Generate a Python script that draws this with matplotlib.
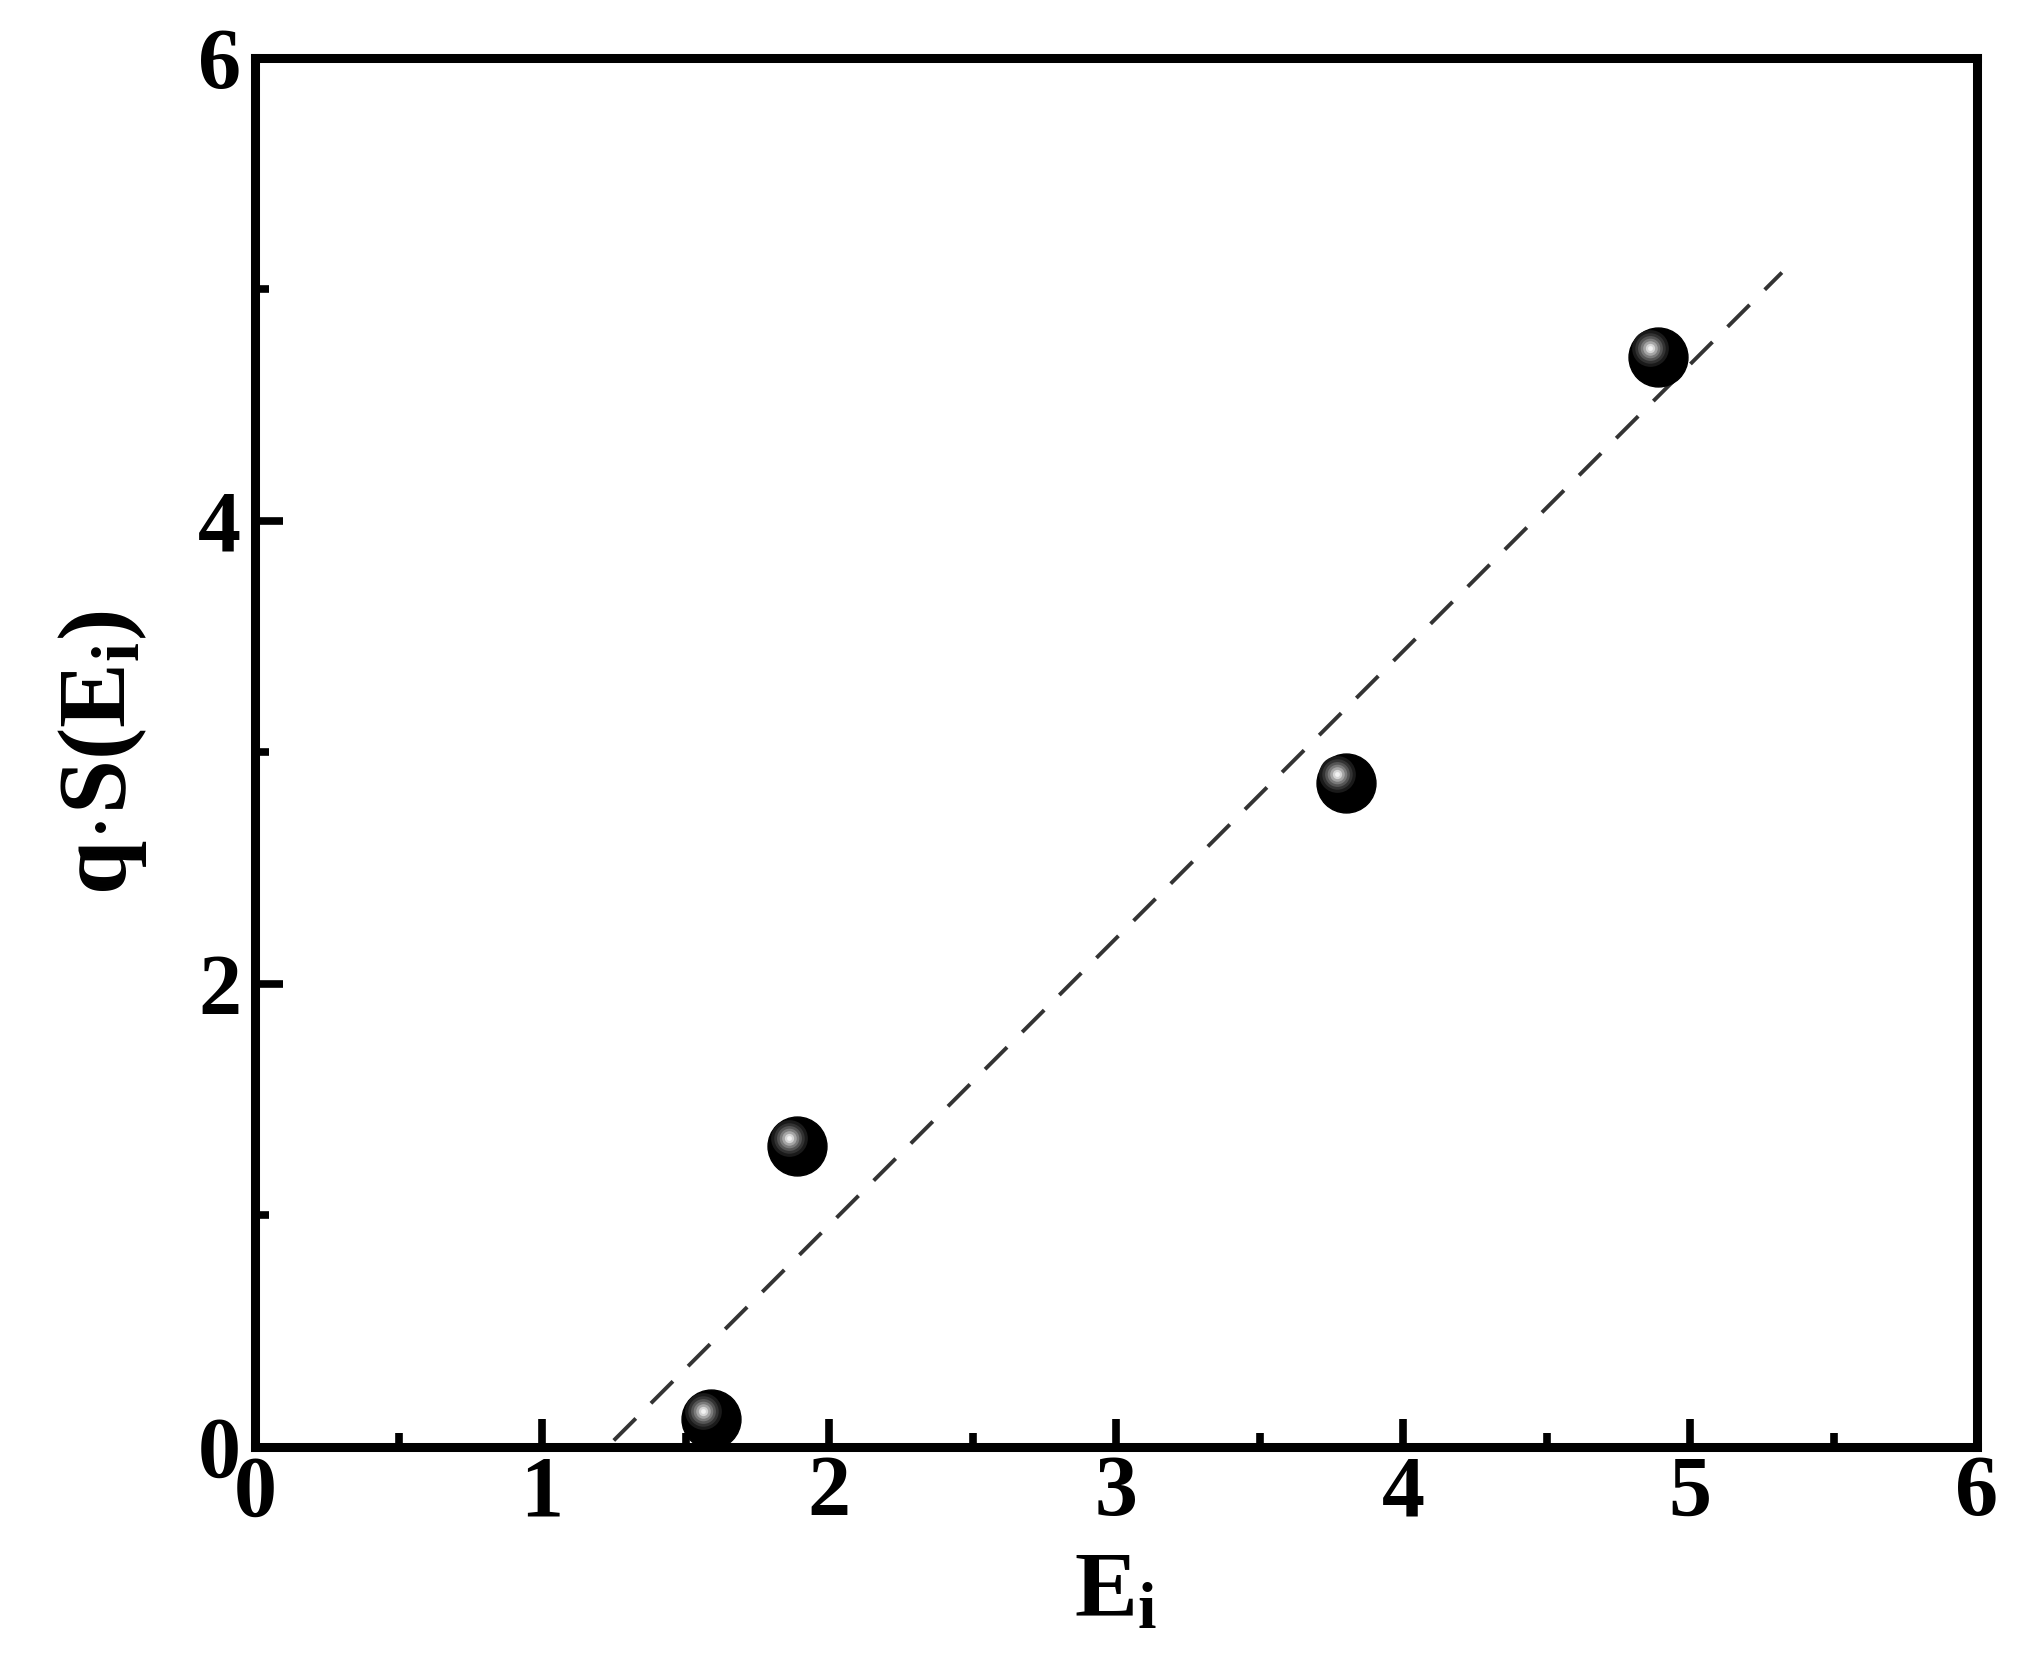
import matplotlib
matplotlib.use("Agg")
import matplotlib.pyplot as plt
import matplotlib.transforms as mtransforms
import numpy as np

# data
e_i = [1.59, 1.89, 3.80, 4.89]
qs = [0.12, 1.30, 2.87, 4.71]
fit_range = [1.25, 5.32]

plt.rcParams['font.family'] = 'Liberation Serif'
plt.rcParams['font.weight'] = 'bold'
plt.rcParams['mathtext.fontset'] = 'custom'
plt.rcParams['mathtext.rm'] = 'Liberation Serif:bold'
plt.rcParams['mathtext.it'] = 'Liberation Serif:bold'
plt.rcParams['mathtext.bf'] = 'Liberation Serif:bold'

fig = plt.figure(figsize=(20.29, 16.79), dpi=100)
ax = fig.add_axes([0.1257, 0.1382, 0.8487, 0.8273])

# linear fit, dashed
k, b = np.polyfit(e_i, qs, 1)
xf = np.array(fit_range)
ax.plot(xf, k * xf + b, color='#333333', lw=2.8, dashes=(8, 5.5))

# shaded spheres: black ball + soft highlight up-left
ax.scatter(e_i, qs, s=1800, color='black', zorder=3, clip_on=False)
off = mtransforms.ScaledTranslation(-6 / 72, 6 / 72, fig.dpi_scale_trans)
tr = ax.transData + off
for size, col in [(700, '#1a1a1a'), (480, '#333333'), (320, '#555555'),
                  (200, '#7a7a7a'), (110, '#a5a5a5'), (45, '#d5d5d5'), (12, '#f2f2f2')]:
    ax.scatter(e_i, qs, s=size, color=col, zorder=4, transform=tr,
               clip_on=False, linewidths=0)

ax.set_xlim(0, 6)
ax.set_ylim(0, 6)
ax.set_xticks([0, 1, 2, 3, 4, 5, 6])
ax.set_yticks([0, 2, 4, 6])
ax.set_xticks(np.arange(0.5, 6, 1), minor=True)
ax.set_yticks([1, 3, 5], minor=True)

for s in ax.spines.values():
    s.set_linewidth(6.5)
ax.tick_params(which='both', direction='in', top=False, right=False, width=5.5)
ax.tick_params(which='major', length=20, labelsize=62, pad=6)
ax.tick_params(which='minor', length=10)
ax.tick_params(axis='y', pad=10)

ax.set_xlabel('E$_\\mathrm{i}$', fontsize=68, fontweight='bold', labelpad=12)
ax.set_ylabel('q$\\cdot$S(E$_\\mathrm{i}$)', fontsize=70, fontweight='bold', labelpad=35)

fig.savefig('out.png', dpi=100)
